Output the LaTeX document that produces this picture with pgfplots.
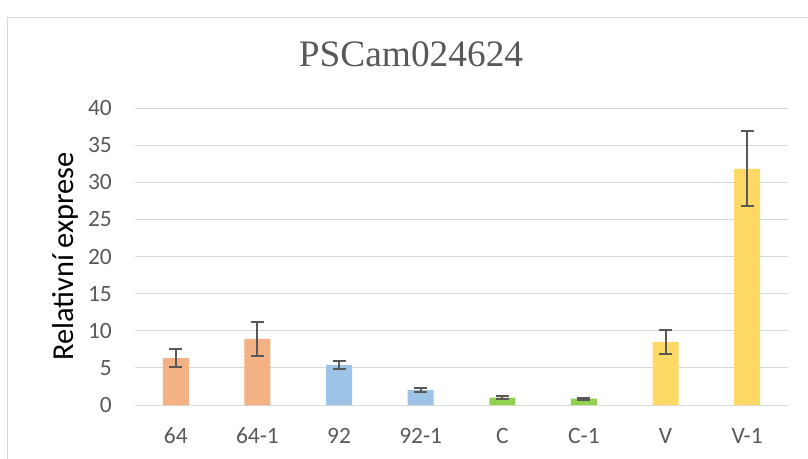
\documentclass[border=0pt]{standalone}
\usepackage{fontspec}
\setmainfont{Carlito}
\newfontfamily\titlefont{Liberation Serif}
\usepackage{pgfplots}
\pgfplotsset{compat=1.18}
\definecolor{txt}{HTML}{595959}
\definecolor{gridc}{HTML}{D9D9D9}
\definecolor{corange}{HTML}{F4B183}
\definecolor{cblue}{HTML}{9DC3E6}
\definecolor{cgreen}{HTML}{92D050}
\definecolor{cyellow}{HTML}{FFD966}
\begin{document}
\begin{tikzpicture}
\useasboundingbox (-135bp,-54bp) rectangle (673bp,405bp);
\draw[color=gridc, line width=1bp] (-127bp,-70bp) -- (-127bp,387bp) -- (700bp,387bp);
\begin{axis}[
  at={(0,0)}, anchor=south west, scale only axis,
  width=653bp, height=297bp,
  xmin=-0.5, xmax=7.5, ymin=0, ymax=40,
  xtick={0,...,7}, xticklabels={64,64-1,92,92-1,C,C-1,V,V-1},
  ytick={0,5,...,40},
  ymajorgrids, grid style={draw=gridc, line width=1bp},
  axis line style={draw=none},
  major tick length=0pt,
  /pgf/number format/assume math mode=true,
  tick label style={font=\fontsize{23.5}{27}\selectfont, color=txt},
  yticklabel style={anchor=east, inner sep=0pt, xshift=-23bp},
  xticklabel style={anchor=base, inner sep=0pt, yshift=-38bp},
  ylabel={Relativní exprese},
  ylabel style={at={(axis description cs:-0.107,0.5)}, anchor=center, font=\fontsize{30.5}{36}\selectfont, color=black},
  title={\titlefont PSCam024624},
  title style={at={(axis description cs:0.4227,1.1357)}, anchor=base, yshift=-5bp, font=\fontsize{37.5}{44}\selectfont, color=txt},
  ybar, bar width=26bp,
  error bars/y dir=both, error bars/y explicit,
  error bars/error bar style={color=txt, line width=2bp},
  error bars/error mark options={rotate=90, mark size=6.5bp, line width=2bp, color=txt},
]
\addplot[fill=corange, draw=none, bar shift=0pt] coordinates {(0,6.3) +- (0,1.2) (1,8.9) +- (0,2.25)};
\addplot[fill=cblue, draw=none, bar shift=0pt] coordinates {(2,5.4) +- (0,0.5) (3,2.0) +- (0,0.3)};
\addplot[fill=cgreen, draw=none, bar shift=0pt] coordinates {(4,1.0) +- (0,0.2) (5,0.85) +- (0,0.15)};
\addplot[fill=cyellow, draw=none, bar shift=0pt] coordinates {(6,8.5) +- (0,1.65) (7,31.8) +- (0,5.05)};
\end{axis}
\end{tikzpicture}
\end{document}
